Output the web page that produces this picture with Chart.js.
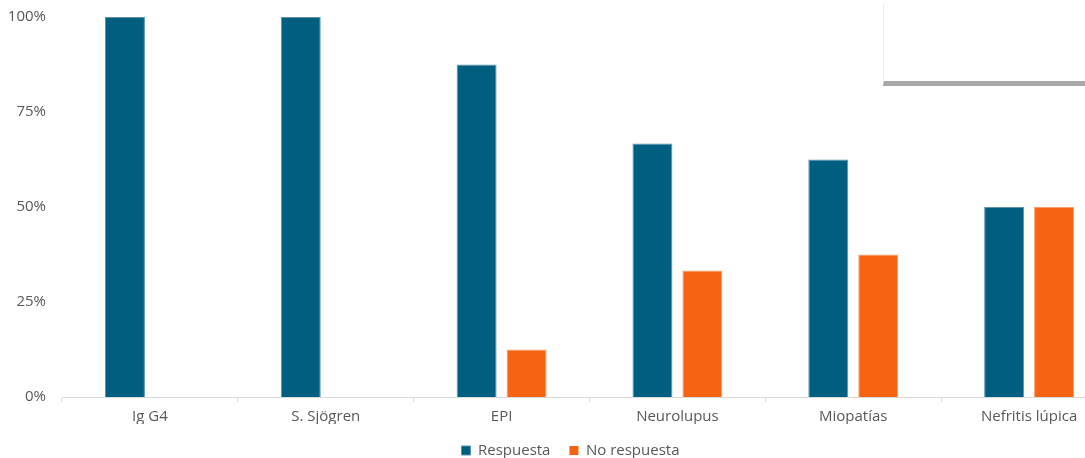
<!DOCTYPE html>
<html>
<head>
<meta charset="utf-8">
<script src="https://cdn.jsdelivr.net/npm/chart.js@4"></script>
<style>
  html, body { margin: 0; padding: 0; background: #fff; }
  #wrap { position: relative; width: 1085px; height: 458px; overflow: hidden; }
  #box { position: absolute; left: 883px; top: 4px; width: 210px; height: 77px; border-left: 1px solid #ececec; border-bottom: 5px solid #a8a8a8; background: #fff; }
  canvas { position: absolute; left: 0; top: 0; }
</style>
</head>
<body>
<div id="wrap">
  <canvas id="chart" width="1140" height="458" style="width:1140px;height:458px"></canvas>
  <div id="box"></div>
</div>
<script>
const categories = ['Ig G4', 'S. Sjögren', 'EPI', 'Neurolupus', 'Miopatías', 'Nefritis lúpica'];
const respuesta = [1.0, 1.0, 0.875, 0.667, 0.625, 0.5];
const noRespuesta = [0, 0, 0.125, 0.333, 0.375, 0.5];
const yTicks = [0, 0.25, 0.5, 0.75, 1];

const FONT = "'Open Sans', 'Liberation Sans', sans-serif";
const GREY = '#595959';

function bw(ctx) { return ctx.raw === 0 ? 0 : 1; }

// nudge the legend to the right, like the original sits off-centre
const legendShift = {
  id: 'legendShift',
  afterLayout(chart) {
    if (chart.legend) { chart.legend.left += 12; chart.legend.right += 12; }
  }
};

const ctx = document.getElementById('chart').getContext('2d');
new Chart(ctx, {
  type: 'bar',
  data: {
    labels: categories,
    datasets: [
      { label: 'Respuesta', data: respuesta, backgroundColor: '#005F80', borderColor: '#5d93ab', borderWidth: bw, borderSkipped: 'bottom' },
      { label: 'No respuesta', data: noRespuesta, backgroundColor: '#F66413', borderColor: '#f9a071', borderWidth: bw, borderSkipped: 'bottom' }
    ]
  },
  plugins: [legendShift],
  options: {
    responsive: false,
    animation: false,
    devicePixelRatio: 1,
    layout: { padding: { top: 17, right: 23, left: 0, bottom: -10 } },
    datasets: { bar: { categoryPercentage: 0.568, barPercentage: 0.8 } },
    plugins: {
      tooltip: { enabled: false },
      legend: {
        position: 'bottom',
        labels: {
          boxWidth: 9, boxHeight: 9, padding: 19, color: GREY,
          font: { family: FONT, size: 15 }
        }
      }
    },
    scales: {
      x: {
        afterFit: (s) => { s.height -= 8; },
        grid: { display: true, drawOnChartArea: false, drawTicks: true, tickLength: 5, color: '#d9d9d9', offset: true },
        border: { color: '#d9d9d9', width: 1 },
        ticks: { color: GREY, font: { family: FONT, size: 15 }, padding: 6, maxRotation: 0 }
      },
      y: {
        min: 0, max: 1,
        afterBuildTicks: (s) => { s.ticks = yTicks.map(v => ({ value: v })); },
        afterFit: (s) => { s.width = 62; s.paddingTop = 0; s.paddingBottom = 0; },
        grid: { display: false, drawTicks: false },
        border: { display: false },
        ticks: {
          color: GREY, font: { family: FONT, size: 15 }, padding: 16,
          callback: (v) => Math.round(v * 100) + '%'
        }
      }
    }
  }
});
</script>
</body>
</html>
